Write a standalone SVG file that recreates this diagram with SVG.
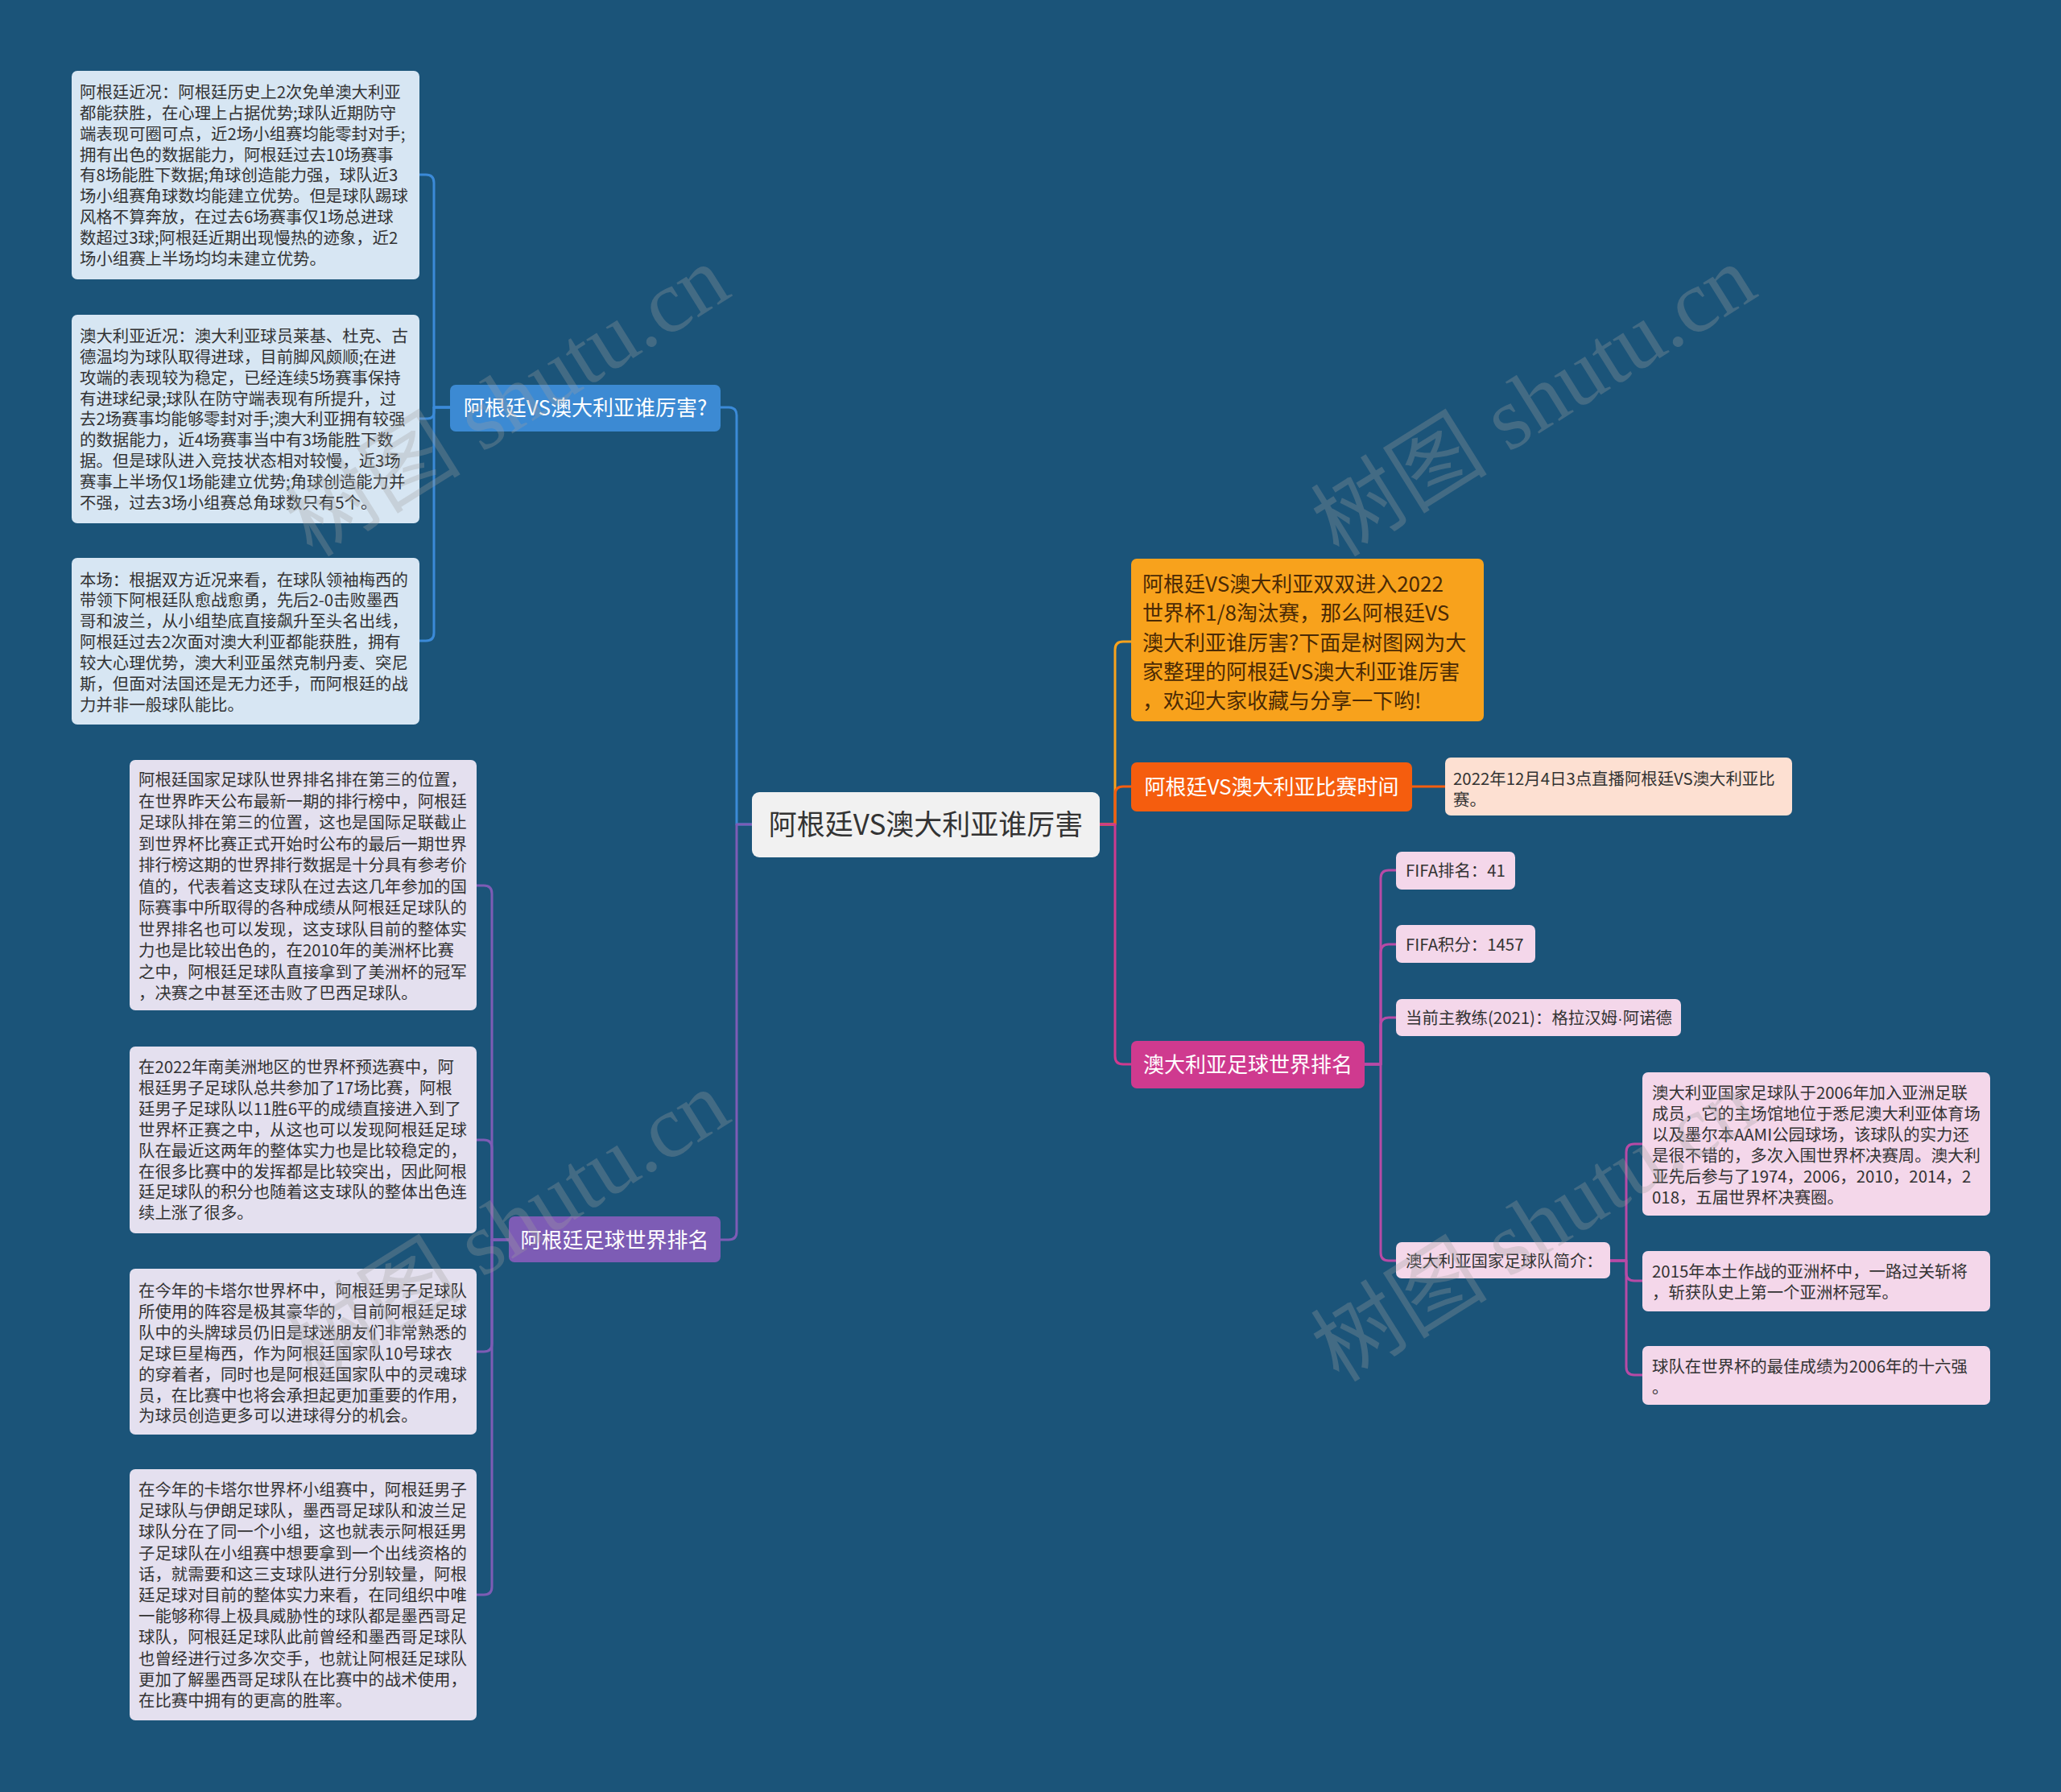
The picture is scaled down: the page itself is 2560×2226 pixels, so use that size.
<svg xmlns="http://www.w3.org/2000/svg" width="2560" height="2226" viewBox="0 0 2560 2226">
<style>
.t{font-family:"Noto Sans CJK SC","Noto Sans",sans-serif;font-size:20.4px;fill:#333333}
.tw{font-family:"Noto Sans CJK SC","Noto Sans",sans-serif;font-size:26px;fill:#ffffff}
.to{font-family:"Noto Sans CJK SC","Noto Sans",sans-serif;font-size:26px;fill:#4a2a05}
.tc{font-family:"Noto Sans CJK SC","Noto Sans",sans-serif;font-size:35px;fill:#333333}
.lat{font-family:"Liberation Sans",sans-serif}
.lb{fill:#d7e6f3}
.lv{fill:#e4e0ef}
.pk{fill:#f4d7ea}
.c{fill:none;stroke-width:3;stroke-linecap:round;stroke-linejoin:round}
.wm{font-family:"Liberation Serif","Noto Sans CJK SC",serif;font-size:110px;fill:#a0a0a0;opacity:0.3}
</style>
<rect x="0" y="0" width="2560" height="2226" fill="#1b5479"/>
<g id="connectors">
<path class="c" stroke="#3b8ad8" d="M934 1024 H915 V516 Q915 506 905 506 H895"/>
<path class="c" stroke="#7d5cb5" d="M934 1024 H915 V1530 Q915 1540 905 1540 H895"/>
<path class="c" stroke="#f8a21c" d="M1366 1024 H1385 V807 Q1385 797 1395 797 H1405"/>
<path class="c" stroke="#f55d0e" d="M1366 1024 H1385 V987 Q1385 977 1395 977 H1405"/>
<path class="c" stroke="#cf3a8f" d="M1366 1024 H1385 V1312 Q1385 1322 1395 1322 H1405"/>
<path class="c" stroke="#3b8ad8" d="M559 506 H539 V227 Q539 217 529 217 H521"/>
<path class="c" stroke="#3b8ad8" d="M559 506 H539 V512 Q539 520 531 520 H521"/>
<path class="c" stroke="#3b8ad8" d="M559 506 H539 V786 Q539 796 529 796 H521"/>
<path class="c" stroke="#7d5cb5" d="M632 1540 H611 V1110 Q611 1100 601 1100 H592"/>
<path class="c" stroke="#7d5cb5" d="M632 1540 H611 V1426 Q611 1416 601 1416 H592"/>
<path class="c" stroke="#7d5cb5" d="M632 1540 H611 V1669 Q611 1679 601 1679 H592"/>
<path class="c" stroke="#7d5cb5" d="M632 1540 H611 V1971 Q611 1981 601 1981 H592"/>
<path class="c" stroke="#f55d0e" d="M1754 977 H1795"/>
<path class="c" stroke="#b74aa6" d="M1695 1322 H1715 V1091 Q1715 1081 1725 1081 H1734"/>
<path class="c" stroke="#b74aa6" d="M1695 1322 H1715 V1183 Q1715 1173 1725 1173 H1734"/>
<path class="c" stroke="#b74aa6" d="M1695 1322 H1715 V1274 Q1715 1264 1725 1264 H1734"/>
<path class="c" stroke="#b74aa6" d="M1695 1322 H1715 V1556 Q1715 1566 1725 1566 H1734"/>
<path class="c" stroke="#b74aa6" d="M2000 1566 H2020 V1431 Q2020 1421 2030 1421 H2040"/>
<path class="c" stroke="#b74aa6" d="M2000 1566 H2020 V1581 Q2020 1591 2030 1591 H2040"/>
<path class="c" stroke="#b74aa6" d="M2000 1566 H2020 V1698 Q2020 1708 2030 1708 H2040"/>
</g>
<g id="center">
<rect x="934" y="984" width="432" height="81" rx="9" fill="#f1f1f1"/>
<text class="tc" x="1150" y="1037" text-anchor="middle">阿根廷VS澳大利亚谁厉害</text>
</g>
<g id="branch1">
<rect x="559" y="478" width="336" height="58" rx="7" fill="#3c8ad3"/>
<text class="tw" x="727" y="516" text-anchor="middle">阿根廷VS澳大利亚谁厉害?</text>
</g>
<g id="branch2">
<rect x="632" y="1511" width="263" height="57" rx="7" fill="#7d5cb5"/>
<text class="tw" x="763.5" y="1550" text-anchor="middle">阿根廷足球世界排名</text>
</g>
<g id="b1">
<rect class="lb" x="89" y="88" width="432" height="259" rx="7"/>
<text class="t" x="99" y="121.8"><tspan x="99">阿根廷近况：阿根廷历史上2次免单澳大利亚</tspan><tspan x="99" dy="25.9">都能获胜，在心理上占据优势;球队近期防守</tspan><tspan x="99" dy="25.9">端表现可圈可点，近2场小组赛均能零封对手;</tspan><tspan x="99" dy="25.9">拥有出色的数据能力，阿根廷过去10场赛事</tspan><tspan x="99" dy="25.9">有8场能胜下数据;角球创造能力强，球队近3</tspan><tspan x="99" dy="25.9">场小组赛角球数均能建立优势。但是球队踢球</tspan><tspan x="99" dy="25.9">风格不算奔放，在过去6场赛事仅1场总进球</tspan><tspan x="99" dy="25.9">数超过3球;阿根廷近期出现慢热的迹象，近2</tspan><tspan x="99" dy="25.9">场小组赛上半场均均未建立优势。</tspan></text>
</g>
<g id="b2">
<rect class="lb" x="89" y="391" width="432" height="259" rx="7"/>
<text class="t" x="99" y="424.8"><tspan x="99">澳大利亚近况：澳大利亚球员莱基、杜克、古</tspan><tspan x="99" dy="25.9">德温均为球队取得进球，目前脚风颇顺;在进</tspan><tspan x="99" dy="25.9">攻端的表现较为稳定，已经连续5场赛事保持</tspan><tspan x="99" dy="25.9">有进球纪录;球队在防守端表现有所提升，过</tspan><tspan x="99" dy="25.9">去2场赛事均能够零封对手;澳大利亚拥有较强</tspan><tspan x="99" dy="25.9">的数据能力，近4场赛事当中有3场能胜下数</tspan><tspan x="99" dy="25.9">据。但是球队进入竞技状态相对较慢，近3场</tspan><tspan x="99" dy="25.9">赛事上半场仅1场能建立优势;角球创造能力并</tspan><tspan x="99" dy="25.9">不强，过去3场小组赛总角球数只有5个。</tspan></text>
</g>
<g id="b3">
<rect class="lb" x="89" y="693" width="432" height="207" rx="7"/>
<text class="t" x="99" y="727.5"><tspan x="99">本场：根据双方近况来看，在球队领袖梅西的</tspan><tspan x="99" dy="25.9">带领下阿根廷队愈战愈勇，先后2-0击败墨西</tspan><tspan x="99" dy="25.9">哥和波兰，从小组垫底直接飙升至头名出线，</tspan><tspan x="99" dy="25.9">阿根廷过去2次面对澳大利亚都能获胜，拥有</tspan><tspan x="99" dy="25.9">较大心理优势，澳大利亚虽然克制丹麦、突尼</tspan><tspan x="99" dy="25.9">斯，但面对法国还是无力还手，而阿根廷的战</tspan><tspan x="99" dy="25.9">力并非一般球队能比。</tspan></text>
</g>
<g id="b4">
<rect class="lv" x="161" y="944" width="431" height="311" rx="7"/>
<text class="t" x="172" y="976"><tspan x="172">阿根廷国家足球队世界排名排在第三的位置，</tspan><tspan x="172" dy="26.5">在世界昨天公布最新一期的排行榜中，阿根廷</tspan><tspan x="172" dy="26.5">足球队排在第三的位置，这也是国际足联截止</tspan><tspan x="172" dy="26.5">到世界杯比赛正式开始时公布的最后一期世界</tspan><tspan x="172" dy="26.5">排行榜这期的世界排行数据是十分具有参考价</tspan><tspan x="172" dy="26.5">值的，代表着这支球队在过去这几年参加的国</tspan><tspan x="172" dy="26.5">际赛事中所取得的各种成绩从阿根廷足球队的</tspan><tspan x="172" dy="26.5">世界排名也可以发现，这支球队目前的整体实</tspan><tspan x="172" dy="26.5">力也是比较出色的，在2010年的美洲杯比赛</tspan><tspan x="172" dy="26.5">之中，阿根廷足球队直接拿到了美洲杯的冠军</tspan><tspan x="172" dy="26.5">，决赛之中甚至还击败了巴西足球队。</tspan></text>
</g>
<g id="b5">
<rect class="lv" x="161" y="1300" width="431" height="232" rx="7"/>
<text class="t" x="172" y="1333"><tspan x="172">在2022年南美洲地区的世界杯预选赛中，阿</tspan><tspan x="172" dy="25.9">根廷男子足球队总共参加了17场比赛，阿根</tspan><tspan x="172" dy="25.9">廷男子足球队以11胜6平的成绩直接进入到了</tspan><tspan x="172" dy="25.9">世界杯正赛之中，从这也可以发现阿根廷足球</tspan><tspan x="172" dy="25.9">队在最近这两年的整体实力也是比较稳定的，</tspan><tspan x="172" dy="25.9">在很多比赛中的发挥都是比较突出，因此阿根</tspan><tspan x="172" dy="25.9">廷足球队的积分也随着这支球队的整体出色连</tspan><tspan x="172" dy="25.9">续上涨了很多。</tspan></text>
</g>
<g id="b6">
<rect class="lv" x="161" y="1576" width="431" height="206" rx="7"/>
<text class="t" x="172" y="1611"><tspan x="172">在今年的卡塔尔世界杯中，阿根廷男子足球队</tspan><tspan x="172" dy="25.9">所使用的阵容是极其豪华的，目前阿根廷足球</tspan><tspan x="172" dy="25.9">队中的头牌球员仍旧是球迷朋友们非常熟悉的</tspan><tspan x="172" dy="25.9">足球巨星梅西，作为阿根廷国家队10号球衣</tspan><tspan x="172" dy="25.9">的穿着者，同时也是阿根廷国家队中的灵魂球</tspan><tspan x="172" dy="25.9">员，在比赛中也将会承担起更加重要的作用，</tspan><tspan x="172" dy="25.9">为球员创造更多可以进球得分的机会。</tspan></text>
</g>
<g id="b7">
<rect class="lv" x="161" y="1825" width="431" height="312" rx="7"/>
<text class="t" x="172" y="1858"><tspan x="172">在今年的卡塔尔世界杯小组赛中，阿根廷男子</tspan><tspan x="172" dy="26.2">足球队与伊朗足球队，墨西哥足球队和波兰足</tspan><tspan x="172" dy="26.2">球队分在了同一个小组，这也就表示阿根廷男</tspan><tspan x="172" dy="26.2">子足球队在小组赛中想要拿到一个出线资格的</tspan><tspan x="172" dy="26.2">话，就需要和这三支球队进行分别较量，阿根</tspan><tspan x="172" dy="26.2">廷足球对目前的整体实力来看，在同组织中唯</tspan><tspan x="172" dy="26.2">一能够称得上极具威胁性的球队都是墨西哥足</tspan><tspan x="172" dy="26.2">球队，阿根廷足球队此前曾经和墨西哥足球队</tspan><tspan x="172" dy="26.2">也曾经进行过多次交手，也就让阿根廷足球队</tspan><tspan x="172" dy="26.2">更加了解墨西哥足球队在比赛中的战术使用，</tspan><tspan x="172" dy="26.2">在比赛中拥有的更高的胜率。</tspan></text>
</g>
<g id="intro">
<rect x="1405" y="694" width="438" height="202" rx="7" fill="#f8a21c"/>
<text class="to" x="1419" y="735"><tspan x="1419">阿根廷VS澳大利亚双双进入2022</tspan><tspan x="1419" dy="36.3">世界杯1/8淘汰赛，那么阿根廷VS</tspan><tspan x="1419" dy="36.3">澳大利亚谁厉害?下面是树图网为大</tspan><tspan x="1419" dy="36.3">家整理的阿根廷VS澳大利亚谁厉害</tspan><tspan x="1419" dy="36.3">，欢迎大家收藏与分享一下哟!</tspan></text>
</g>
<g id="matchtime">
<rect x="1405" y="947" width="349" height="61" rx="7" fill="#f55d0e"/>
<text class="tw" x="1579.5" y="987" text-anchor="middle">阿根廷VS澳大利亚比赛时间</text>
</g>
<g id="matchtime-detail">
<rect x="1795" y="941" width="431" height="72" rx="7" fill="#fde0d2"/>
<text class="t" x="1805" y="975"><tspan x="1805">2022年12月4日3点直播阿根廷VS澳大利亚比</tspan><tspan x="1805" dy="25.5">赛。</tspan></text>
</g>
<g id="ausrank">
<rect x="1405" y="1293" width="290" height="59" rx="7" fill="#cf3a8f"/>
<text class="tw" x="1550" y="1332" text-anchor="middle">澳大利亚足球世界排名</text>
</g>
<g id="fifarank">
<rect class="pk" x="1734" y="1058" width="148" height="47" rx="7"/>
<text class="t" x="1746" y="1089">FIFA排名：41</text>
</g>
<g id="fifapoints">
<rect class="pk" x="1734" y="1149" width="173" height="47" rx="7"/>
<text class="t" x="1746" y="1181">FIFA积分：1457</text>
</g>
<g id="coach">
<rect class="pk" x="1734" y="1241" width="354" height="46" rx="7"/>
<text class="t" x="1746" y="1272">当前主教练(2021)：格拉汉姆<tspan class="lat">·</tspan>阿诺德</text>
</g>
<g id="ausintro">
<rect class="pk" x="1734" y="1543" width="266" height="45" rx="7"/>
<text class="t" x="1746" y="1574">澳大利亚国家足球队简介：</text>
</g>
<g id="ausintro1">
<rect class="pk" x="2040" y="1332" width="432" height="178" rx="7"/>
<text class="t" x="2052" y="1365"><tspan x="2052">澳大利亚国家足球队于2006年加入亚洲足联</tspan><tspan x="2052" dy="25.9">成员，它的主场馆地位于悉尼澳大利亚体育场</tspan><tspan x="2052" dy="25.9">以及墨尔本AAMI公园球场，该球队的实力还</tspan><tspan x="2052" dy="25.9">是很不错的，多次入围世界杯决赛周。澳大利</tspan><tspan x="2052" dy="25.9">亚先后参与了1974，2006，2010，2014，2</tspan><tspan x="2052" dy="25.9">018，五届世界杯决赛圈。</tspan></text>
</g>
<g id="ausintro2">
<rect class="pk" x="2040" y="1554" width="432" height="75" rx="7"/>
<text class="t" x="2052" y="1587"><tspan x="2052">2015年本土作战的亚洲杯中，一路过关斩将</tspan><tspan x="2052" dy="26">，斩获队史上第一个亚洲杯冠军。</tspan></text>
</g>
<g id="ausintro3">
<rect class="pk" x="2040" y="1672" width="432" height="73" rx="7"/>
<text class="t" x="2052" y="1705"><tspan x="2052">球队在世界杯的最佳成绩为2006年的十六强</tspan><tspan x="2052" dy="26">。</tspan></text>
</g>
<g id="watermarks">
<text class="wm" x="650" y="530" text-anchor="middle" transform="rotate(-32 650 530)">树图 shutu.cn</text>
<text class="wm" x="1925" y="530" text-anchor="middle" transform="rotate(-32 1925 530)">树图 shutu.cn</text>
<text class="wm" x="650" y="1555" text-anchor="middle" transform="rotate(-32 650 1555)">树图 shutu.cn</text>
<text class="wm" x="1925" y="1555" text-anchor="middle" transform="rotate(-32 1925 1555)">树图 shutu.cn</text>
</g>
</svg>
